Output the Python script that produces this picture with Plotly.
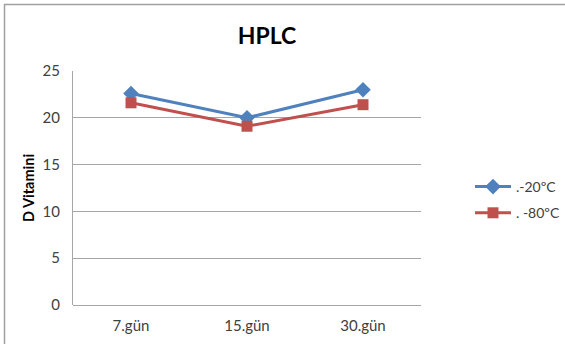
import plotly.graph_objects as go

categories = ["7.gün", "15.gün", "30.gün"]
series_names = [".-20ºC", ". -80ºC"]
values_minus20 = [22.6, 20.0, 23.0]
values_minus80 = [21.6, 19.1, 21.4]
y_ticks = [0, 5, 10, 15, 20, 25]

W, H = 565, 344
L, R, T, B = 73, 144, 71, 39
pw = W - L - R
ph = H - T - B

font_family = "Lato, 'Open Sans', sans-serif"
text_color = "#404040"

fig = go.Figure()
fig.add_trace(go.Scatter(
    x=categories, y=values_minus20, name=series_names[0], mode="lines+markers",
    legendgroup="m20",
    line=dict(color="#4F81BD", width=3),
    marker=dict(symbol="diamond", size=12, color="#4F81BD"),
))
fig.add_trace(go.Scatter(
    x=categories, y=values_minus80, name=series_names[1], mode="lines+markers",
    legendgroup="m80",
    line=dict(color="#C0504D", width=3),
    marker=dict(symbol="square", size=11, color="#C0504D"),
))

# outer frame: only its left and top edges fall inside the canvas
def px_x(p):
    return (p - L) / pw

def px_y(p):
    return (H - B - p) / ph

fig.add_shape(type="rect", xref="paper", yref="paper",
              x0=px_x(4.5), x1=px_x(W + 20), y0=px_y(4.5), y1=px_y(H + 20),
              line=dict(color="#A0A0A0", width=1.5), fillcolor="rgba(0,0,0,0)",
              layer="below")

fig.update_layout(
    width=W, height=H,
    margin=dict(l=L, r=R, t=T, b=B, autoexpand=False),
    paper_bgcolor="white", plot_bgcolor="white",
    font=dict(family=font_family, size=15, color=text_color),
    title=dict(text="<b>HPLC</b>", x=267 / W, xref="container", xanchor="center",
               y=1 - 36 / H, yref="container", yanchor="middle",
               font=dict(size=23, color="#000000", family=font_family)),
    showlegend=True,
    legend=dict(x=470 / W, xref="container", y=1 - 171 / H, yref="container",
                xanchor="left", yanchor="top",
                font=dict(size=14, color=text_color), tracegroupgap=5,
                bgcolor="rgba(0,0,0,0)", itemwidth=36),
    xaxis=dict(type="category", range=[-0.5, 2.5], showgrid=False, automargin=False,
               showline=False, ticks="", ticklabelstandoff=10,
               tickfont=dict(size=15, color=text_color)),
    yaxis=dict(range=[0, 25], tickvals=y_ticks, showgrid=True, gridcolor="#A6A6A6",
               gridwidth=1, zeroline=True, zerolinecolor="#A6A6A6", zerolinewidth=1,
               showline=True, linecolor="#A6A6A6", linewidth=1, ticks="", automargin=False,
               ticklen=0, ticklabelstandoff=9, tickfont=dict(size=15, color=text_color),
               title=dict(text="<b>D Vitamini</b>", standoff=4,
                          font=dict(size=14.5, color="#000000"))),
)

fig.write_html("out.html", config={"displayModeBar": False})
